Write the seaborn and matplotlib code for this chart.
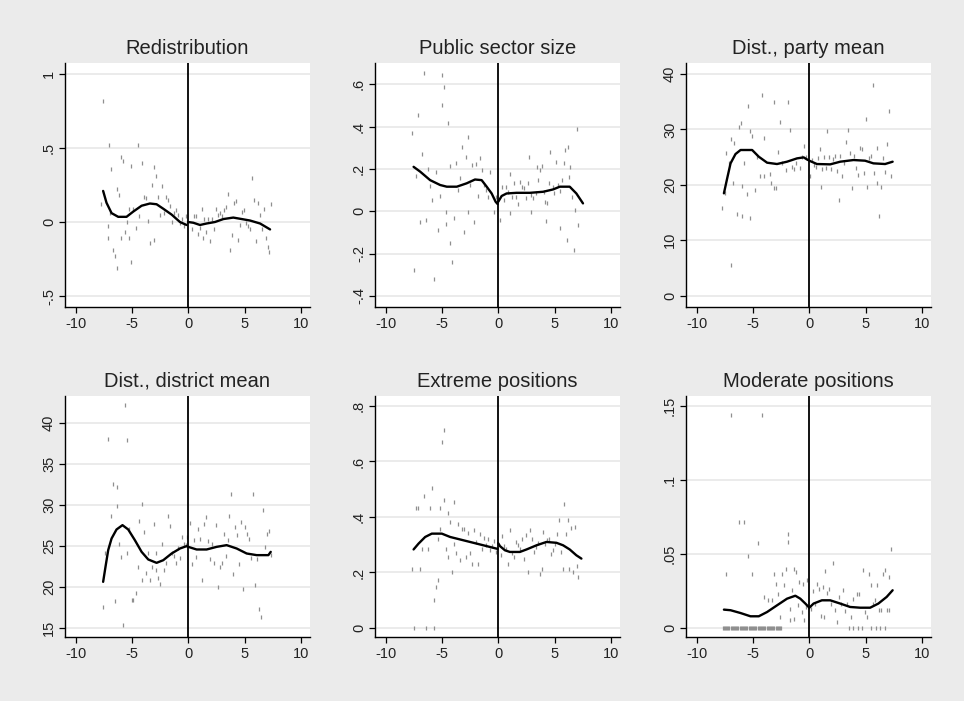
import numpy as np
import pandas as pd
import matplotlib
matplotlib.use("Agg")
import matplotlib.pyplot as plt
from matplotlib.ticker import FuncFormatter
import seaborn as sns

# ---------------- data: binned scatter and local fits ----------------
# Redistribution
redis_x = [-7.57, -7.72, -7.03, -6.85, -7.18, -7.18, -6.97, -6.68, -6.50, -6.32,
           -6.32, -6.14, -5.96, -5.79, -5.96, -5.61, -5.43, -5.25, -5.25, -5.05,
           -5.05, -4.90, -4.69, -4.51, -4.36, -4.15, -3.98, -3.80, -3.62, -3.44,
           -3.26, -3.09, -3.09, -2.91, -2.73, -2.55, -2.37, -2.19, -2.02, -1.84,
           -1.66, -1.48, -1.31, -1.13, -0.95, -0.77, -0.59, -0.42, -0.24, -0.12,
           0.30, 0.47, 0.65, 0.83, 1.04, 1.22, 1.28, 1.39, 1.57, 1.75,
           1.93, 2.11, 2.28, 2.46, 2.64, 2.82, 3.00, 3.18, 3.35, 3.53,
           3.71, 3.89, 4.07, 4.24, 4.42, 4.60, 4.78, 4.96, 5.13, 5.31,
           5.49, 5.67, 5.85, 6.03, 6.20, 6.38, 6.56, 6.74, 6.91, 7.09,
           7.15, 7.33]
redis_y = [0.82, 0.12, 0.52, 0.36, -0.03, -0.11, 0.06, -0.19, -0.23, -0.31,
           0.22, 0.18, 0.44, 0.41, -0.11, -0.07, 0.00, 0.09, -0.11, 0.38,
           -0.27, 0.09, -0.04, 0.52, 0.04, 0.40, 0.17, 0.16, 0.01, -0.14,
           0.25, 0.37, -0.12, 0.31, 0.17, 0.05, 0.24, 0.06, 0.17, 0.15,
           0.11, 0.00, 0.06, 0.08, 0.05, -0.01, 0.02, -0.03, 0.04, 0.00,
           -0.05, 0.04, 0.04, -0.08, -0.04, 0.09, -0.11, 0.02, -0.07, 0.02,
           -0.13, 0.02, -0.05, 0.09, 0.05, 0.06, 0.04, 0.08, 0.10, 0.19,
           -0.19, -0.09, 0.13, 0.14, -0.12, -0.02, 0.07, 0.08, -0.01, -0.03,
           -0.05, 0.30, 0.15, -0.13, 0.13, 0.05, -0.05, 0.09, -0.11, -0.17,
           -0.20, 0.12]
redis_fit_x = [-7.57, -7.27, -6.82, -6.23, -5.49, -4.90, -4.15, -3.41, -2.82, -2.23,
               -1.48, -0.74, -0.15,
               0.00, 0.45, 1.04, 1.63, 2.37, 3.12, 4.00, 4.75, 5.49, 6.38, 7.27]
redis_fit_y = [0.21, 0.13, 0.06, 0.035, 0.035, 0.07, 0.11, 0.125, 0.12, 0.09,
               0.05, 0.00, -0.02,
               0.00, -0.005, -0.02, -0.01, 0.00, 0.02, 0.03, 0.02, 0.01, -0.01, -0.05]

# Public sector size
pub_x = [-7.68, -7.47, -7.30, -7.15, -6.94, -6.77, -6.59, -6.41, -6.23, -6.06,
         -5.88, -5.70, -5.52, -5.35, -5.17, -4.99, -4.99, -4.82, -4.64, -4.64,
         -4.46, -4.28, -4.28, -4.11, -3.93, -3.75, -3.57, -3.40, -3.22, -3.04,
         -2.87, -2.69, -2.69, -2.51, -2.33, -2.16, -1.98, -1.80, -1.62, -1.45,
         -1.27, -1.09, -0.92, -0.74, -0.38, -0.24,
         0.15, 0.30, 0.47, 0.65, 0.83, 1.00, 1.06, 1.18, 1.36, 1.54,
         1.71, 1.89, 2.07, 2.25, 2.42, 2.60, 2.69, 2.87, 2.95, 3.13,
         3.31, 3.40, 3.57, 3.75, 3.93, 4.02, 4.11, 4.28, 4.37, 4.55,
         4.64, 4.82, 4.93, 5.11, 5.29, 5.47, 5.52, 5.70, 5.82, 5.91,
         6.09, 6.17, 6.29, 6.41, 6.59, 6.76, 6.85, 7.00, 7.09]
pub_y = [0.368, -0.279, 0.166, 0.453, -0.050, 0.270, 0.652, -0.042, 0.198, 0.119,
         0.053, -0.320, 0.187, -0.089, 0.073, 0.646, 0.502, 0.586, -0.006, -0.060,
         0.418, -0.148, 0.214, -0.240, -0.034, 0.226, 0.100, 0.155, 0.302, -0.099,
         0.255, 0.349, -0.006, 0.124, 0.218, -0.051, 0.221, 0.072, 0.253, 0.195,
         0.124, 0.100, 0.069, 0.187, -0.006, 0.069,
         -0.042, 0.113, 0.053, 0.113, 0.092, -0.007, 0.176, 0.069, 0.132, 0.069,
         0.034, 0.140, 0.113, 0.108, 0.061, 0.132, 0.255, -0.006, 0.076, 0.061,
         0.084, 0.207, 0.150, 0.195, 0.214, 0.092, 0.045, -0.045, 0.037, 0.132,
         0.281, 0.116, 0.084, 0.234, 0.124, -0.081, 0.097, 0.150, 0.226, 0.289,
         -0.137, 0.305, 0.163, 0.210, 0.069, -0.184, 0.005, 0.387, -0.066]
pub_fit_x = [-7.53, -6.94, -6.06, -5.17, -4.58, -3.69, -2.81, -2.07, -1.48, -1.03,
             -0.59, -0.24, -0.06,
             0.00, 0.30, 0.74, 1.62, 2.81, 3.99, 4.87, 5.47, 6.35, 6.94, 7.53]
pub_fit_y = [0.210, 0.187, 0.147, 0.124, 0.116, 0.116, 0.132, 0.150, 0.147, 0.116,
             0.084, 0.045, 0.034,
             0.045, 0.072, 0.084, 0.087, 0.087, 0.092, 0.103, 0.116, 0.116, 0.084, 0.037]

# Distance to party mean
party_x = [-7.74, -7.53, -7.36, -7.18, -7.00, -7.00, -6.82, -6.65, -6.47, -6.29,
           -6.11, -5.94, -5.94, -5.76, -5.58, -5.41, -5.23, -5.23, -5.05, -4.87,
           -4.64, -4.34, -4.17, -4.00, -4.00, -3.46, -3.40, -3.10, -3.10, -2.92,
           -2.75, -2.57, -2.39, -2.04, -1.86, -1.68, -1.50, -1.33, -1.15, -0.80,
           -0.62, -0.44, -0.27,
           0.09, 0.27, 0.44, 0.62, 0.80, 0.97, 1.03, 1.15, 1.33, 1.51,
           1.57, 1.74, 1.92, 2.10, 2.27, 2.45, 2.63, 2.75, 2.92, 3.10,
           3.28, 3.46, 3.63, 3.81, 3.99, 4.17, 4.34, 4.52, 4.70, 4.87,
           5.05, 5.17, 5.35, 5.53, 5.70, 5.79, 6.00, 6.06, 6.23, 6.35,
           6.53, 6.71, 6.88, 7.06, 7.24]
party_y = [15.76, 18.47, 25.68, 23.88, 5.53, 28.21, 20.27, 27.49, 14.74, 30.38,
           31.22, 14.44, 19.79, 24.00, 18.35, 34.23, 14.08, 29.71, 28.81, 19.07,
           24.96, 21.59, 36.21, 21.59, 28.51, 21.95, 20.27, 35.01, 19.49, 19.49,
           25.98, 31.40, 24.00, 22.68, 35.01, 29.89, 23.28, 22.80, 23.88, 22.98,
           25.08, 27.01, 24.96,
           21.59, 24.48, 23.58, 23.28, 24.78, 26.41, 19.67, 22.80, 25.08, 22.98,
           29.71, 25.08, 22.80, 24.60, 25.20, 22.56, 17.26, 25.20, 21.59, 23.88,
           27.79, 29.89, 25.68, 19.37, 25.20, 22.98, 21.77, 26.59, 26.41, 22.20,
           31.82, 19.67, 24.78, 25.20, 38.02, 22.08, 26.59, 20.27, 14.38, 19.55,
           24.78, 22.38, 27.37, 33.32, 21.59]
party_fit_x = [-7.59, -7.30, -7.00, -6.56, -6.11, -5.08, -4.49, -3.75, -2.87, -1.98,
               -1.09, -0.50, -0.12,
               0.00, 0.68, 1.86, 2.75, 3.93, 4.96, 5.70, 6.74, 7.41]
party_fit_y = [18.47, 21.17, 23.88, 25.56, 26.29, 26.29, 25.08, 24.00, 23.76, 24.18,
               24.78, 24.96, 24.48,
               24.36, 23.76, 23.70, 24.18, 24.48, 24.36, 23.88, 23.76, 24.18]

# Distance to district mean
district_x = [-7.57, -7.36, -7.18, -6.85, -6.68, -6.50, -6.32, -6.32, -6.14, -5.96,
              -5.79, -5.61, -5.43, -5.43, -5.25, -5.04, -4.90, -4.69, -4.51, -4.36,
              -4.15, -4.15, -3.98, -3.80, -3.62, -3.44, -3.26, -3.09, -2.91, -2.91,
              -2.73, -2.55, -2.37, -2.19, -2.02, -1.84, -1.66, -1.48, -1.31, -1.13,
              -0.95, -0.77, -0.59, -0.42, -0.24, -0.09,
              0.15, 0.30, 0.47, 0.65, 0.83, 1.01, 1.19, 1.36, 1.54, 1.72,
              1.90, 2.08, 2.26, 2.43, 2.61, 2.79, 2.97, 3.15, 3.32, 3.50,
              3.59, 3.77, 3.95, 4.12, 4.30, 4.48, 4.66, 4.84, 5.01, 5.19,
              5.37, 5.55, 5.73, 5.91, 6.08, 6.26, 6.44, 6.62, 6.80, 6.97,
              7.15, 7.33]
district_y = [17.52, 24.12, 37.96, 28.60, 32.51, 18.26, 32.10, 29.82, 25.26, 23.63,
              15.29, 42.16, 37.88, 24.12, 27.09, 18.42, 18.42, 19.28, 22.41, 28.03,
              30.02, 20.78, 26.69, 21.68, 24.04, 20.78, 22.41, 27.58, 22.00, 24.04,
              21.11, 20.37, 25.14, 22.00, 22.90, 28.60, 27.38, 24.12, 23.71, 22.90,
              24.65, 23.51, 26.07, 25.26, 25.06, 26.07,
              27.78, 22.74, 25.67, 23.63, 27.09, 25.75, 20.86, 27.62, 28.52, 25.59,
              23.31, 25.18, 22.82, 27.50, 19.97, 22.41, 22.82, 26.40, 23.71, 25.67,
              28.60, 31.29, 21.51, 27.30, 26.28, 22.70, 27.91, 19.76, 27.30, 26.48,
              25.87, 23.43, 31.25, 20.17, 23.31, 17.32, 16.30, 29.33, 24.85, 26.40,
              26.81, 23.84]
district_fit_x = [-7.57, -7.36, -7.12, -6.82, -6.38, -5.85, -5.34, -4.75, -4.15, -3.56,
                  -2.82, -2.23, -1.48, -0.74, -0.15,
                  0.00, 0.74, 1.63, 2.52, 3.41, 4.30, 5.19, 6.08, 7.12, 7.33]
district_fit_y = [20.58, 22.41, 24.45, 25.87, 26.97, 27.50, 26.97, 25.67, 24.24, 23.31,
                  22.90, 23.22, 24.04, 24.65, 24.94,
                  24.85, 24.53, 24.53, 24.85, 25.06, 24.65, 24.04, 23.84, 23.84, 24.24]

# Extreme positions
extreme_x = [-7.68, -7.47, -7.30, -7.12, -6.94, -6.77, -6.59, -6.41, -6.23, -6.06,
             -5.88, -5.70, -5.70, -5.52, -5.35, -5.35, -5.17, -5.17, -4.99, -4.82,
             -4.82, -4.64, -4.46, -4.46, -4.28, -4.11, -3.93, -3.93, -3.75, -3.57,
             -3.40, -3.22, -3.04, -2.87, -2.69, -2.51, -2.33, -2.16, -1.98, -1.80,
             -1.62, -1.45, -1.27, -1.09, -0.92, -0.74, -0.56, -0.38, -0.24,
             0.21, 0.35, 0.53, 0.71, 0.89, 1.06, 1.24, 1.42, 1.60, 1.77,
             1.95, 2.13, 2.30, 2.48, 2.66, 2.84, 3.01, 3.19, 3.37, 3.55,
             3.72, 3.90, 3.99, 4.17, 4.34, 4.52, 4.70, 4.87, 5.05, 5.23,
             5.41, 5.58, 5.76, 5.85, 6.03, 6.20, 6.29, 6.47, 6.65, 6.82,
             6.97, 7.09]
extreme_y = [0.212, 0.000, 0.431, 0.431, 0.212, 0.283, 0.475, 0.000, 0.283, 0.431,
             0.503, 0.000, 0.100, 0.148, 0.174, 0.322, 0.431, 0.358, 0.671, 0.713,
             0.461, 0.283, 0.256, 0.413, 0.383, 0.202, 0.455, 0.304, 0.271, 0.374,
             0.244, 0.355, 0.358, 0.256, 0.343, 0.271, 0.229, 0.352, 0.310, 0.229,
             0.340, 0.286, 0.326, 0.298, 0.322, 0.280, 0.295, 0.314, 0.274,
             0.262, 0.331, 0.295, 0.283, 0.230, 0.352, 0.271, 0.256, 0.310, 0.298,
             0.286, 0.322, 0.250, 0.334, 0.202, 0.352, 0.319, 0.274, 0.292, 0.307,
             0.194, 0.211, 0.346, 0.304, 0.316, 0.319, 0.268, 0.280, 0.304, 0.338,
             0.389, 0.274, 0.212, 0.446, 0.338, 0.389, 0.212, 0.362, 0.202, 0.364,
             0.223, 0.184]
extreme_fit_x = [-7.53, -7.09, -6.50, -5.91, -5.02, -4.28, -3.10, -1.92, -0.74, -0.06,
                 0.00, 0.15, 0.59, 1.03, 1.92, 2.51, 3.40, 4.28, 5.17, 5.76, 6.35, 6.94, 7.39]
extreme_fit_y = [0.283, 0.304, 0.328, 0.340, 0.340, 0.328, 0.316, 0.304, 0.292, 0.285,
                 0.305, 0.295, 0.280, 0.274, 0.274, 0.283, 0.298, 0.310, 0.307, 0.298,
                 0.283, 0.262, 0.250]

# Moderate positions
moderate_x = [-7.36, -7.00, -6.29, -5.76, -5.41, -5.05, -4.52, -4.17, -4.00, -3.64,
              -3.28, -3.10, -2.92, -2.75, -2.57, -2.39, -2.22, -2.04, -1.86, -1.86,
              -1.68, -1.68, -1.51, -1.33, -1.33, -1.15, -1.03, -0.92, -0.68, -0.56,
              -0.44, -0.32, -0.21,
              0.15, 0.32, 0.50, 0.68, 0.86, 1.03, 1.21, 1.33, 1.39, 1.57,
              1.74, 1.92, 2.10, 2.27, 2.45, 2.63, 2.81, 2.98, 3.16, 3.34,
              3.69, 3.87, 4.22, 4.40, 4.76, 4.93, 5.11, 5.29, 5.47, 5.64,
              5.82, 6.00, 6.17, 6.35, 6.53, 6.71, 6.88, 7.06, 7.24, 7.12]
moderate_y = [0.0363, 0.1439, 0.0717, 0.0717, 0.0485, 0.0363, 0.0577, 0.1439, 0.0210, 0.0187,
              0.0187, 0.0363, 0.0300, 0.0232, 0.0074, 0.0363, 0.0289, 0.0401, 0.0582, 0.0638,
              0.0052, 0.0131, 0.0255, 0.0401, 0.0063, 0.0379, 0.0153, 0.0311, 0.0108, 0.0300,
              0.0052, 0.0142, 0.0323,
              0.0131, 0.0250, 0.0165, 0.0300, 0.0266, 0.0079, 0.0277, 0.0074, 0.0386, 0.0237,
              0.0266, 0.0165, 0.0440, 0.0120, 0.0041, 0.0210, 0.0165, 0.0255, 0.0115, 0.0165,
              0.0074, 0.0198, 0.0228, 0.0228, 0.0395, 0.0108, 0.0074, 0.0363, 0.0289, 0.0165,
              0.0192, 0.0289, 0.0120, 0.0124, 0.0363, 0.0395, 0.0124, 0.0345, 0.0537, 0.0124]
# bins whose share is exactly zero
moderate_zero_x = [-7.70, -7.60, -7.50, -7.40, -7.30, -7.20, -7.10, -7.00, -6.90, -6.80,
                   -6.70, -6.60, -6.50, -6.40, -6.30, -6.20, -6.10, -6.00, -5.90, -5.80,
                   -5.70, -5.60, -5.50, -5.40, -5.30, -5.20, -5.10, -5.00, -4.90, -4.80,
                   -4.70, -4.60, -4.50, -4.40, -4.30, -4.20, -4.10, -4.00, -3.90, -3.80,
                   -3.70, -3.60, -3.50, -3.40, -3.30, -3.20, -3.10, -3.00, -2.90, -2.80,
                   -2.70, -2.60, -2.50,
                   3.50, 3.90, 4.30, 4.70, 5.50, 5.90, 6.30, 6.70]
moderate_fit_x = [-7.59, -7.00, -6.11, -5.23, -4.49, -3.75, -2.87, -1.98, -1.24, -0.80,
                  -0.35, -0.06,
                  0.00, 0.38, 1.12, 1.86, 2.75, 3.63, 4.52, 5.41, 6.14, 6.88, 7.41]
moderate_fit_y = [0.0124, 0.0120, 0.0101, 0.0079, 0.0079, 0.0108, 0.0153, 0.0198, 0.0218, 0.0198,
                  0.0165, 0.0142,
                  0.0137, 0.0165, 0.0187, 0.0187, 0.0165, 0.0142, 0.0137, 0.0137, 0.0165, 0.0210,
                  0.0255]

titles = ["Redistribution", "Public sector size", "Dist., party mean",
          "Dist., district mean", "Extreme positions", "Moderate positions"]
x_ticks = [-10, -5, 0, 5, 10]
y_ticks = [[-0.5, 0, 0.5, 1],
           [-0.4, -0.2, 0, 0.2, 0.4, 0.6],
           [0, 10, 20, 30, 40],
           [15, 20, 25, 30, 35, 40],
           [0, 0.2, 0.4, 0.6, 0.8],
           [0, 0.05, 0.1, 0.15]]

# ---------------- figure ----------------
sns.set_style("ticks")
plt.rcParams["font.family"] = ["Liberation Sans", "DejaVu Sans"]

BG = "#ebebeb"
fig = plt.figure(figsize=(9.64, 7.01), dpi=100, facecolor=BG)
W, H = 964.0, 701.0


def stata_label(v, pos=None):
    if abs(v) < 1e-12:
        return "0"
    s = f"{v:g}"
    if s.startswith("0."):
        s = s[1:]
    elif s.startswith("-0."):
        s = "-" + s[2:]
    return s


series = [
    (redis_x, redis_y, redis_fit_x, redis_fit_y),
    (pub_x, pub_y, pub_fit_x, pub_fit_y),
    (party_x, party_y, party_fit_x, party_fit_y),
    (district_x, district_y, district_fit_x, district_fit_y),
    (extreme_x, extreme_y, extreme_fit_x, extreme_fit_y),
    (moderate_x + moderate_zero_x, moderate_y + [0.0] * len(moderate_zero_x),
     moderate_fit_x, moderate_fit_y),
]

# plot-region boxes in pixels (left, right) / (top, bottom) and y ranges
col_px = [(65, 310), (375, 620), (686, 931)]
row_px = [(63, 307), (396, 637)]
y_ranges = [(-0.574, 1.074), (-0.453, 0.701), (-2.04, 41.99),
            (13.85, 43.26), (-0.0325, 0.836), (-0.0061, 0.1568)]

for i, (sx, sy, fx, fy) in enumerate(series):
    r, c = divmod(i, 3)
    l, rgt = col_px[c]
    t, b = row_px[r]
    ax = fig.add_axes([l / W, 1 - b / H, (rgt - l) / W, (b - t) / H])
    ax.set_facecolor("white")

    pts = pd.DataFrame({"x": sx, "y": sy})
    fit = pd.DataFrame({"x": fx, "y": fy})
    fit["side"] = np.where(fit["x"] < 0, "below", "above")

    ax.axvline(0, color="black", lw=1.3, zorder=3)
    sns.scatterplot(data=pts, x="x", y="y", ax=ax, marker="|", s=9,
                    linewidth=0.9, color="#8f8f8f", zorder=2, legend=False)
    sns.lineplot(data=fit, x="x", y="y", units="side", estimator=None,
                 sort=False, color="black", lw=1.7, ax=ax, zorder=4, legend=False)

    ax.set_xlim(-10.96, 10.82)
    ax.set_ylim(*y_ranges[i])
    ax.set_xticks(x_ticks)
    ax.set_yticks(y_ticks[i])
    ax.yaxis.set_major_formatter(FuncFormatter(stata_label))
    ax.xaxis.set_major_formatter(FuncFormatter(stata_label))
    ax.yaxis.grid(True, color="#e9e9e9", lw=1.3)
    ax.xaxis.grid(False)
    ax.set_axisbelow(True)
    for side in ("top", "right"):
        ax.spines[side].set_visible(False)
    for side in ("left", "bottom"):
        ax.spines[side].set_color("black")
        ax.spines[side].set_linewidth(1.0)
    ax.tick_params(direction="out", length=4.5, width=0.9, color="black",
                   labelsize=10.5, labelcolor="#222222")
    ax.tick_params(axis="x", pad=3)
    ax.tick_params(axis="y", labelrotation=90, pad=2)
    for lab in ax.get_yticklabels():
        lab.set_va("center")
    ax.set_xlabel("")
    ax.set_ylabel("")
    ax.set_title(titles[i], fontsize=14.5, pad=6.5, color="#222222")

fig.savefig("out.png", dpi=100, facecolor=BG)
